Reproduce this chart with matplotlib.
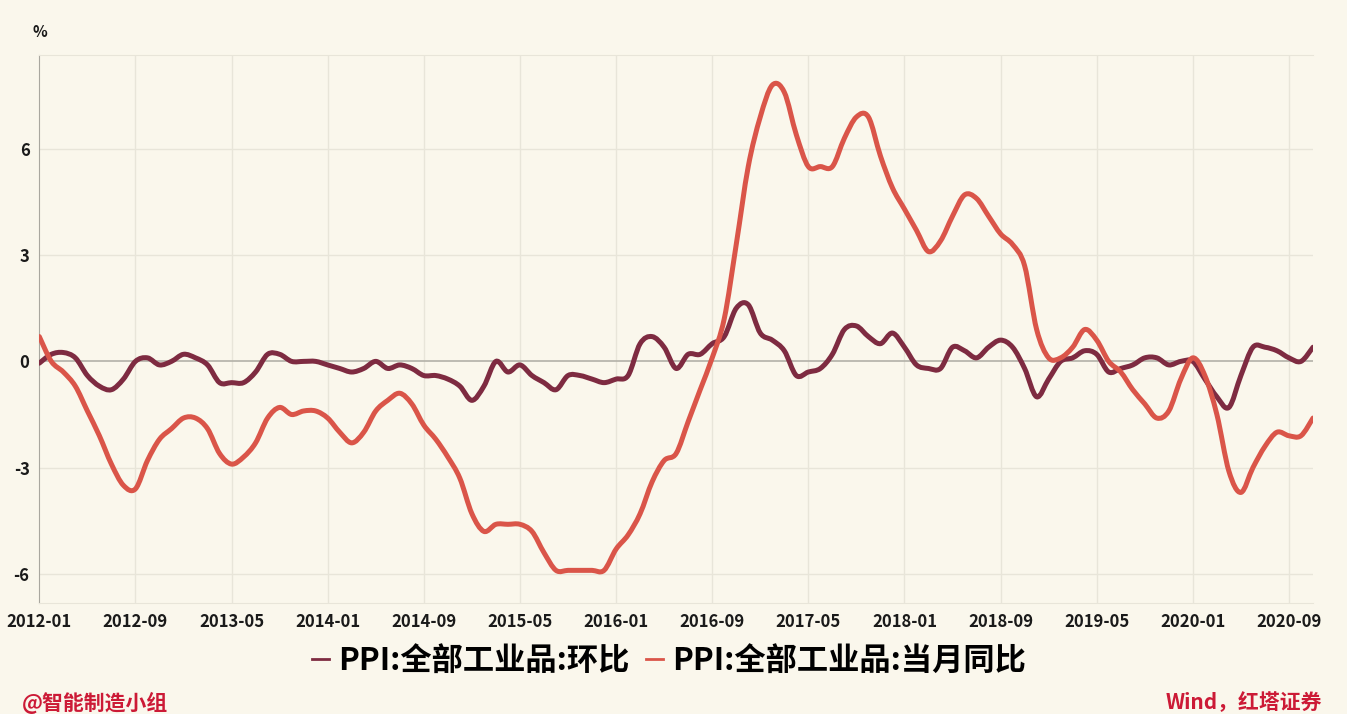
import matplotlib.pyplot as plt
from matplotlib.path import Path
from matplotlib.patches import PathPatch
from matplotlib.lines import Line2D

# --------------------------------------------------------
# Data: monthly PPI, 2012-01 .. 2020-11 (%)
# --------------------------------------------------------
mom_2012 = [-0.05, 0.2, 0.25, 0.1, -0.4, -0.7, -0.8, -0.5, 0.0, 0.1, -0.1, 0.0]
mom_2013 = [0.2, 0.1, -0.1, -0.6, -0.6, -0.6, -0.3, 0.2, 0.2, 0.0, 0.0, 0.0]
mom_2014 = [-0.1, -0.2, -0.3, -0.2, 0.0, -0.2, -0.1, -0.2, -0.4, -0.4, -0.5, -0.7]
mom_2015 = [-1.1, -0.7, 0.0, -0.3, -0.1, -0.4, -0.6, -0.8, -0.4, -0.4, -0.5, -0.6]
mom_2016 = [-0.5, -0.4, 0.5, 0.7, 0.4, -0.2, 0.2, 0.2, 0.5, 0.7, 1.5, 1.6]
mom_2017 = [0.8, 0.6, 0.3, -0.4, -0.3, -0.2, 0.2, 0.9, 1.0, 0.7, 0.5, 0.8]
mom_2018 = [0.4, -0.1, -0.2, -0.2, 0.4, 0.3, 0.1, 0.4, 0.6, 0.4, -0.2, -1.0]
mom_2019 = [-0.5, 0.0, 0.1, 0.3, 0.2, -0.3, -0.2, -0.1, 0.1, 0.1, -0.1, 0.0]
mom_2020 = [0.0, -0.5, -1.0, -1.3, -0.4, 0.4, 0.4, 0.3, 0.1, 0.0, 0.4]

yoy_2012 = [0.7, 0.0, -0.3, -0.7, -1.4, -2.1, -2.9, -3.5, -3.6, -2.8, -2.2, -1.9]
yoy_2013 = [-1.6, -1.6, -1.9, -2.6, -2.9, -2.7, -2.3, -1.6, -1.3, -1.5, -1.4, -1.4]
yoy_2014 = [-1.6, -2.0, -2.3, -2.0, -1.4, -1.1, -0.9, -1.2, -1.8, -2.2, -2.7, -3.3]
yoy_2015 = [-4.3, -4.8, -4.6, -4.6, -4.6, -4.8, -5.4, -5.9, -5.9, -5.9, -5.9, -5.9]
yoy_2016 = [-5.3, -4.9, -4.3, -3.4, -2.8, -2.6, -1.7, -0.8, 0.1, 1.2, 3.3, 5.5]
yoy_2017 = [6.9, 7.8, 7.6, 6.4, 5.5, 5.5, 5.5, 6.3, 6.9, 6.9, 5.8, 4.9]
yoy_2018 = [4.3, 3.7, 3.1, 3.4, 4.1, 4.7, 4.6, 4.1, 3.6, 3.3, 2.7, 0.9]
yoy_2019 = [0.1, 0.1, 0.4, 0.9, 0.6, 0.0, -0.3, -0.8, -1.2, -1.6, -1.4, -0.5]
yoy_2020 = [0.1, -0.4, -1.5, -3.1, -3.7, -3.0, -2.4, -2.0, -2.1, -2.1, -1.6]

ppi_mom = (mom_2012 + mom_2013 + mom_2014 + mom_2015 + mom_2016
           + mom_2017 + mom_2018 + mom_2019 + mom_2020)
ppi_yoy = (yoy_2012 + yoy_2013 + yoy_2014 + yoy_2015 + yoy_2016
           + yoy_2017 + yoy_2018 + yoy_2019 + yoy_2020)

tick_labels = ["2012-01", "2012-09", "2013-05", "2014-01", "2014-09", "2015-05",
               "2016-01", "2016-09", "2017-05", "2018-01", "2018-09", "2019-05",
               "2020-01", "2020-09"]
y_ticks = [-6, -3, 0, 3, 6]

series_names = ["PPI:全部工业品:环比", "PPI:全部工业品:当月同比"]

# --------------------------------------------------------
# Style
# --------------------------------------------------------
plt.rcParams['font.family'] = ['Noto Sans CJK SC', 'DejaVu Sans']

BG = "#FAF7EC"
GRID = "#E8E5D9"
MOM_COLOR = "#7E2B41"
YOY_COLOR = "#DA5549"
RED = "#CC1A36"


def smooth_path(ys):
    """Smoothed line through the points (cubic bezier, Excel-like)."""
    xs = list(range(len(ys)))
    n = len(ys)
    verts = [(xs[0], ys[0])]
    codes = [Path.MOVETO]
    for i in range(n - 1):
        p = max(i - 1, 0)
        q = min(i + 2, n - 1)
        c1 = (xs[i] + (xs[i + 1] - xs[p]) / 6, ys[i] + (ys[i + 1] - ys[p]) / 6)
        c2 = (xs[i + 1] - (xs[q] - xs[i]) / 6, ys[i + 1] - (ys[q] - ys[i]) / 6)
        verts += [c1, c2, (xs[i + 1], ys[i + 1])]
        codes += [Path.CURVE4] * 3
    return Path(verts, codes)


# --------------------------------------------------------
# Figure
# --------------------------------------------------------
fig = plt.figure(figsize=(13.47, 7.14), dpi=100, facecolor=BG)
ax = fig.add_axes([0.02918, 0.15504, 0.94558, 0.76793])
ax.set_facecolor(BG)

ax.set_xlim(0, len(ppi_mom) - 1)
ax.set_ylim(-6.83, 8.65)

tick_pos = list(range(0, 8 * len(tick_labels), 8))
ax.set_xticks(tick_pos)
ax.set_xticklabels(tick_labels)
ax.set_yticks(y_ticks)
ax.set_yticklabels([str(v) for v in y_ticks])
ax.tick_params(length=0, labelsize=12, colors="#1A1A1A", pad=7)
for lab in ax.get_xticklabels() + ax.get_yticklabels():
    lab.set_fontweight("bold")

# grid
for x in tick_pos[1:]:
    ax.axvline(x, color=GRID, lw=1, zorder=0)
for y in y_ticks:
    if y != 0:
        ax.axhline(y, color=GRID, lw=1, zorder=0)
ax.axhline(0, color="#B3B1A8", lw=1.2, zorder=1)

ax.spines["right"].set_visible(False)
ax.spines["top"].set_color(GRID)
ax.spines["bottom"].set_color(GRID)
ax.spines["left"].set_color("#A9A79F")

# lines
ax.add_patch(PathPatch(smooth_path(ppi_mom), fill=False, edgecolor=MOM_COLOR,
                       lw=3.6, capstyle="round", joinstyle="round", zorder=3))
ax.add_patch(PathPatch(smooth_path(ppi_yoy), fill=False, edgecolor=YOY_COLOR,
                       lw=3.6, capstyle="round", joinstyle="round", zorder=4))

# legend
handles = [Line2D([0], [0], color=MOM_COLOR, lw=2),
           Line2D([0], [0], color=YOY_COLOR, lw=2)]
leg = fig.legend(handles, series_names, loc="center", ncol=2, frameon=False,
                 bbox_to_anchor=(669 / 1347, 1 - 661 / 714),
                 prop={"size": 22.5, "weight": "bold"},
                 handlelength=0.55, handletextpad=0.3, columnspacing=0.5)

# texts
fig.text(40 / 1347, 1 - 32 / 714, "%", ha="center", va="center", fontsize=11,
         fontweight="bold", color="#1A1A1A")
fig.text(22 / 1347, 1 - 703 / 714, "@智能制造小组", ha="left", va="center",
         fontsize=15, fontweight="bold", color=RED)
fig.text(1322 / 1347, 1 - 703 / 714, "Wind，红塔证券", ha="right", va="center",
         fontsize=15, fontweight="bold", color=RED)

fig.savefig("out.png", dpi=100, facecolor=BG)
